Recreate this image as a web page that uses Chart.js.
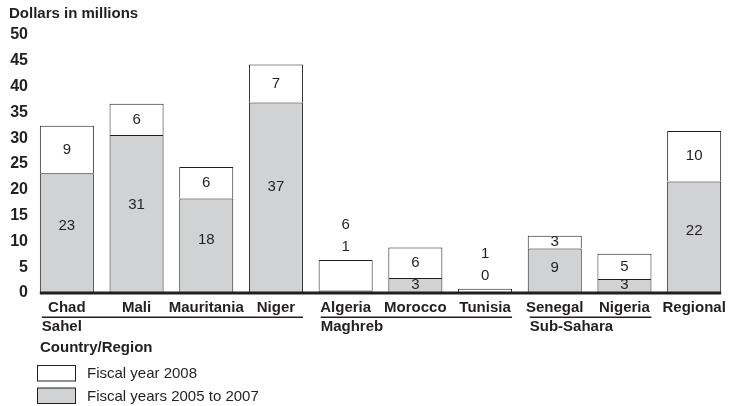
<!DOCTYPE html>
<html>
<head>
<meta charset="utf-8">
<script src="https://cdn.jsdelivr.net/npm/chart.js@4.4.1/dist/chart.umd.min.js"></script>
<style>
  html, body { margin: 0; padding: 0; background: #ffffff; }
  #wrap { position: relative; width: 729px; height: 406px; }
</style>
</head>
<body>
<div id="wrap"><canvas id="c" width="729" height="406"></canvas></div>
<script>
// ---- Data ----
const categories = ['Chad', 'Mali', 'Mauritania', 'Niger', 'Algeria', 'Morocco', 'Tunisia', 'Senegal', 'Nigeria', 'Regional'];
const fy2005to2007 = [23.2, 30.6, 18.3, 36.9, 0.5, 2.9, 0.2, 8.6, 2.7, 21.6];
const fy2008 = [9.2, 6.1, 6.1, 7.4, 5.9, 5.9, 0.6, 2.5, 4.9, 9.8];
const seriesNames = ['Fiscal years 2005 to 2007', 'Fiscal year 2008'];
const groupNames = ['Sahel', 'Maghreb', 'Sub-Sahara'];
const groupFirst = [0, 4, 7];
const groupLast = [3, 6, 8];
const yTicks = [0, 5, 10, 15, 20, 25, 30, 35, 40, 45, 50];
const yAxisTitle = 'Dollars in millions';
const xAxisTitle = 'Country/Region';

const FONT = "'Liberation Sans', Arial, Helvetica, sans-serif";
const INK = '#231f20';
const GRAY = '#d1d2d4';

const annotate = {
  id: 'annotate',
  afterDatasetsDraw(chart) {
    const ctx = chart.ctx;
    const g = chart.getDatasetMeta(0).data;
    const w = chart.getDatasetMeta(1).data;
    const y0 = chart.scales.y.getPixelForValue(0);
    const n = g.length;
    ctx.save();
    // baseline
    const L = g[0].x - g[0].width / 2;
    const R = g[n - 1].x + g[n - 1].width / 2;
    ctx.fillStyle = INK;
    ctx.fillRect(L, y0 - 1.5, R - L, 3);

    // value labels
    ctx.font = '15px ' + FONT;
    ctx.textAlign = 'center';
    ctx.textBaseline = 'middle';
    ctx.fillStyle = INK;
    for (let i = 0; i < n; i++) {
      const gb = g[i], wb = w[i];
      const gh = gb.base - gb.y;
      const gl = String(Math.round(fy2005to2007[i]));
      const wl = String(Math.round(fy2008[i]));
      if (gh < 10) {
        ctx.fillText(gl, gb.x, wb.y - 13);
        ctx.fillText(wl, gb.x, wb.y - 35);
      } else {
        ctx.fillText(gl, gb.x, (gb.y + gb.base) / 2 - 0.06 * gh);
        ctx.fillText(wl, wb.x, (wb.y + wb.base) / 2);
      }
    }

    // category labels
    ctx.font = 'bold 15px ' + FONT;
    for (let i = 0; i < n; i++) {
      ctx.fillText(categories[i], g[i].x, y0 + 15);
    }
    // group underlines and names
    ctx.textAlign = 'left';
    for (let k = 0; k < groupNames.length; k++) {
      const a = g[groupFirst[k]], b = g[groupLast[k]];
      const x1 = a.x - a.width / 2 + 2;
      const x2 = b.x + b.width / 2;
      ctx.fillRect(x1, y0 + 23.5, x2 - x1, 1.5);
      ctx.fillText(groupNames[k], x1, y0 + 34);
    }
    // axis titles
    ctx.fillText(xAxisTitle, 40, y0 + 55);
    ctx.fillText(yAxisTitle, 9, 14);

    // legend
    const ds = chart.data.datasets.slice().reverse();
    ctx.font = '15px ' + FONT;
    ds.forEach((d, j) => {
      const by = 365 + j * 22.5;
      ctx.fillStyle = d.backgroundColor;
      ctx.fillRect(37.5, by + 0.5, 38, 15.5);
      ctx.strokeStyle = INK;
      ctx.lineWidth = 1;
      ctx.strokeRect(37.5, by + 0.5, 38, 15.5);
      ctx.fillStyle = INK;
      ctx.fillText(d.label, 87, by + 9);
    });
    ctx.restore();
  }
};

new Chart(document.getElementById('c'), {
  type: 'bar',
  data: {
    labels: categories,
    datasets: [
      { label: seriesNames[0], data: fy2005to2007, backgroundColor: GRAY, borderColor: INK, borderWidth: 1 },
      { label: seriesNames[1], data: fy2008, backgroundColor: '#ffffff', borderColor: INK, borderWidth: 1 }
    ]
  },
  options: {
    responsive: false,
    animation: false,
    layout: { padding: { top: 35, bottom: 113, left: 0, right: 0 } },
    datasets: { bar: { barPercentage: 1, categoryPercentage: 0.775 } },
    plugins: { legend: { display: false }, tooltip: { enabled: false }, title: { display: false } },
    scales: {
      x: { stacked: true, display: false },
      y: {
        stacked: true,
        min: 0, max: 50,
        grid: { display: false, drawTicks: false },
        border: { display: false },
        afterBuildTicks(scale) { scale.ticks = yTicks.map(v => ({ value: v })); },
        afterFit(scale) { scale.width = 32; },
        ticks: { padding: 4, color: INK, font: { family: FONT, size: 16, weight: 'bold' } }
      }
    }
  },
  plugins: [annotate]
});
</script>
</body>
</html>
